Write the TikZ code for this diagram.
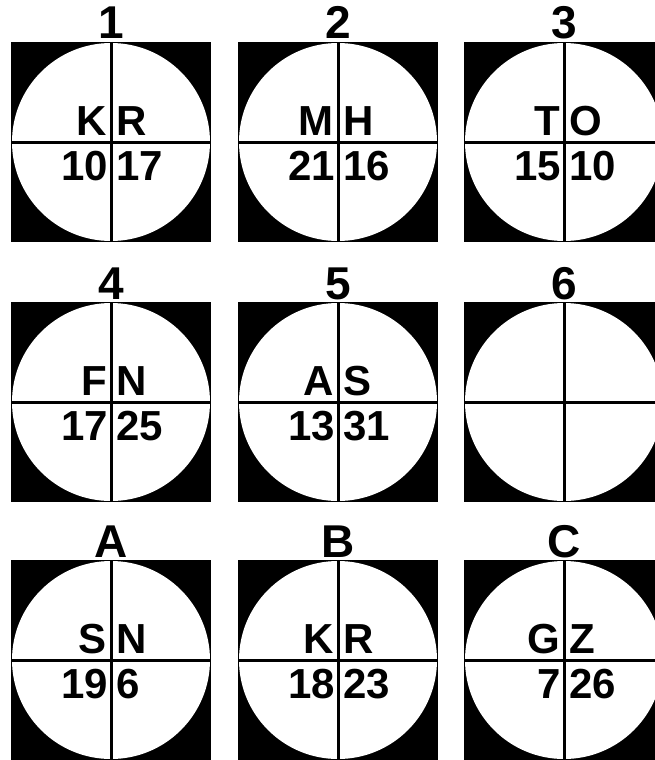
\documentclass[tikz,border=0pt]{standalone}
\usepackage{fontspec}
\setmainfont{Liberation Sans}
\usepackage{tikz}

\tikzset{
  entry/.style={font=\fontsize{42}{42}\selectfont\bfseries, inner sep=0pt},
  caption/.style={font=\fontsize{46}{46}\selectfont\bfseries, inner sep=0pt, anchor=base},
  crossline/.style={line width=3pt}
}

% square with white disc and cross, caption on top
\newcommand{\disc}[4]{%
  \coordinate (#1) at (#2,#3);
  \fill[black] (#2-100,#3-100) rectangle (#2+100,#3+100);
  \fill[white] (#1) circle (99pt);
  \draw[crossline] (#2-100,#3) -- (#2+100,#3);
  \draw[crossline] (#2,#3-100) -- (#2,#3+100);
  \node[caption] (#1-cap) at (#2,#3-103) {#4};
}

% letters above the line, numbers below
\newcommand{\entries}[5]{%
  \node[entry, anchor=base east] (#1-tl) at ([shift={(-4,-7)}]#1) {#2};
  \node[entry, anchor=base west] (#1-tr) at ([shift={(5,-7)}]#1) {#3};
  \node[entry, anchor=north east] (#1-bl) at ([shift={(-3,9)}]#1) {#4};
  \node[entry, anchor=north west] (#1-br) at ([shift={(5,9)}]#1) {#5};
}

\begin{document}
\begin{tikzpicture}[x=1pt, y=-1pt]
\useasboundingbox (0,0) rectangle (655,760);
\clip (0,0) rectangle (655,760);

\disc{d1}{111}{142}{1}
\entries{d1}{K}{R}{10}{17}
\disc{d2}{338}{142}{2}
\entries{d2}{M}{H}{21}{16}
\disc{d3}{564}{142}{3}
\entries{d3}{T}{O}{15}{10}

\disc{d4}{111}{402}{4}
\entries{d4}{F}{N}{17}{25}
\disc{d5}{338}{402}{5}
\entries{d5}{A}{S}{13}{31}
\disc{d6}{564}{402}{6}

\disc{dA}{111}{660}{A}
\entries{dA}{S}{N}{19}{6}
\disc{dB}{338}{660}{B}
\entries{dB}{K}{R}{18}{23}
\disc{dC}{564}{660}{C}
\entries{dC}{G}{Z}{7}{26}
\end{tikzpicture}
\end{document}
